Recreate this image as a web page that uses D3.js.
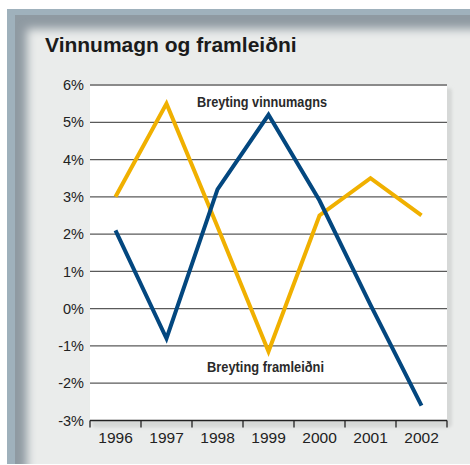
<!DOCTYPE html>
<html><head><meta charset="utf-8">
<script src="https://cdn.jsdelivr.net/npm/d3@7"></script>
<style>html,body{margin:0;padding:0;background:#fff;}svg{display:block;}</style>
</head><body>
<script>
const title = "Vinnumagn og framleiðni";
const years = ["1996","1997","1998","1999","2000","2001","2002"];
const vinnumagn = [2.1, -0.8, 3.2, 5.2, 2.9, 0.1, -2.6];
const framleidni = [3.0, 5.5, 2.2, -1.15, 2.5, 3.5, 2.5];
const yTicks = [-3,-2,-1,0,1,2,3,4,5,6];
const labelVinnumagn = "Breyting vinnumagns";
const labelFramleidni = "Breyting framleiðni";

(function(){
const W = 470, H = 465;
const svg = d3.select("body").append("svg").attr("width", W).attr("height", H);
const defs = svg.append("defs");
defs.append("clipPath").attr("id","frameClip").append("rect")
  .attr("x",7).attr("y",9).attr("width",W-7).attr("height",455);
const blur = defs.append("filter").attr("id","soft").attr("x","-10%").attr("y","-10%").attr("width","120%").attr("height","120%");
blur.append("feGaussianBlur").attr("stdDeviation",5);
const sh = defs.append("filter").attr("id","sh").attr("x","-10%").attr("y","-10%").attr("width","120%").attr("height","120%");
sh.append("feGaussianBlur").attr("stdDeviation",1.5);

svg.append("rect").attr("width",W).attr("height",H).attr("fill","#fff");
const frame = svg.append("g").attr("clip-path","url(#frameClip)");
frame.append("rect").attr("x",7).attr("y",9).attr("width",W).attr("height",460).attr("fill","#8f9aa2");
frame.append("rect").attr("x",7).attr("y",9).attr("width",W).attr("height",6).attr("fill","#9fb1bc");
frame.append("rect").attr("x",7).attr("y",9).attr("width",8).attr("height",460).attr("fill","#9fb1bc");
frame.append("rect").attr("x",27).attr("y",29).attr("width",W+40).attr("height",480)
  .attr("fill","#eaeceb").attr("filter","url(#soft)");

// plot area
const pL = 90, pR = 447, pT = 85, pB = 420.5;
const x = d3.scaleBand().domain(years).range([pL,pR]);
const y = d3.scaleLinear().domain([-3,6]).range([pB, pT]);

svg.append("rect").attr("x",pL+2).attr("y",pT+3).attr("width",pR-pL+3).attr("height",pB-pT+4)
  .attr("rx",4).attr("fill","#d6d8d7").attr("filter","url(#sh)");
svg.append("rect").attr("x",pL).attr("y",pT).attr("width",pR-pL).attr("height",pB-pT).attr("fill","#fff");

// title
svg.append("text").attr("x",45).attr("y",52).text(title)
  .attr("font-family","Liberation Sans, Arial, sans-serif").attr("font-weight","bold")
  .attr("font-size",21).attr("fill","#1b1b1b");

// gridlines
svg.append("g").selectAll("line").data(yTicks).join("line")
  .attr("x1",pL).attr("x2",pR).attr("y1",d=>y(d)).attr("y2",d=>y(d))
  .attr("stroke",d=>d===-3?"#222":(d===6?"#8a8a8a":"#5a5a5a")).attr("stroke-width",d=>d===6?2:1.3);

// y labels
const yAxis = d3.axisLeft(y).tickValues(yTicks).tickSize(0).tickPadding(6).tickFormat(d=>d+"%");
const ya = svg.append("g").attr("transform",`translate(${pL},0)`).call(yAxis);
ya.select(".domain").remove();
ya.selectAll("text").attr("font-family","Liberation Sans, Arial, sans-serif").attr("font-size",14.5).attr("fill","#222");

// x axis
const xa = svg.append("g").attr("transform",`translate(0,${pB})`)
  .call(d3.axisBottom(x).tickSize(0).tickPadding(0));
xa.select(".domain").remove();
xa.selectAll("text").attr("font-family","Liberation Sans, Arial, sans-serif").attr("font-size",15.5)
  .attr("fill","#222").attr("dy",null).attr("y",22);
const bounds = years.map(d=>x(d)).concat([x.range()[1]]);
svg.append("g").selectAll("line").data(bounds).join("line")
  .attr("x1",d=>d).attr("x2",d=>d).attr("y1",pB).attr("y2",pB+7)
  .attr("stroke","#222").attr("stroke-width",1.3);

// lines
const cx = d => x(d) + x.bandwidth()/2;
const line = d3.line().x((d,i)=>cx(years[i])).y(d=>y(d));
svg.append("path").datum(framleidni).attr("d",line).attr("fill","none")
  .attr("stroke","#f0b000").attr("stroke-width",4);
svg.append("path").datum(vinnumagn).attr("d",line).attr("fill","none")
  .attr("stroke","#03477f").attr("stroke-width",4);

// series labels
const lf = "Liberation Sans Narrow, Arial Narrow, Liberation Sans, Arial, sans-serif";
svg.append("text").attr("x",262).attr("y",107).attr("text-anchor","middle").text(labelVinnumagn)
  .attr("font-family",lf).attr("font-weight","bold").attr("font-size",15).attr("fill","#2a2a2a")
  .attr("textLength",130).attr("lengthAdjust","spacingAndGlyphs");
svg.append("text").attr("x",265.5).attr("y",372).attr("text-anchor","middle").text(labelFramleidni)
  .attr("font-family",lf).attr("font-weight","bold").attr("font-size",15).attr("fill","#2a2a2a")
  .attr("textLength",117).attr("lengthAdjust","spacingAndGlyphs");
})();
</script>
</body></html>
